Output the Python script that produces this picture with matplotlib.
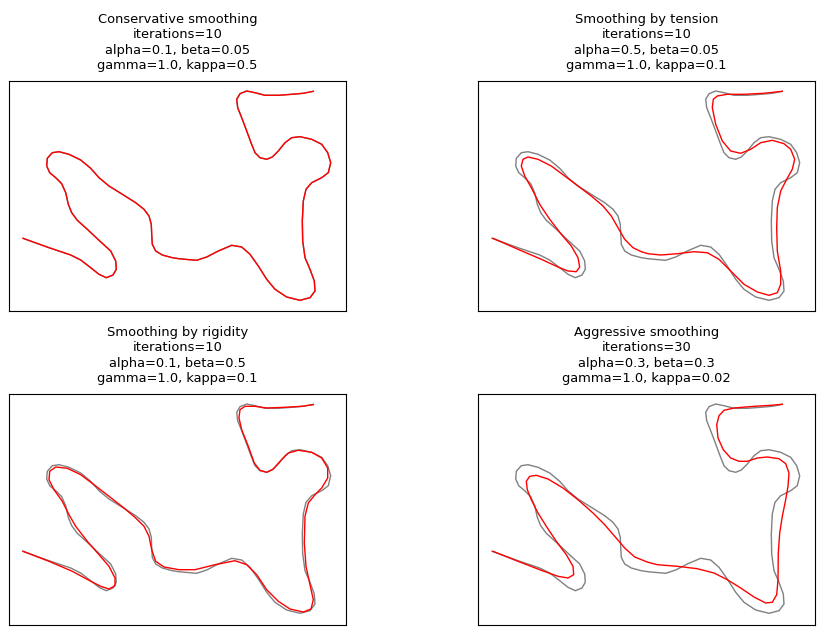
#!/usr/bin/env python3
"""Active contour smoothing: original curve vs smoothed result, four settings."""

import matplotlib
matplotlib.use("Agg")
import matplotlib.pyplot as plt

# original contour (grey), in panel pixel units
orig_x = [14, 40, 61.7, 71.7, 81.7, 90, 97.3, 104, 107.3, 106.7, 101.7, 90, 78.3, 68.3,
          62.7, 59.3, 56.7, 52.7, 46.7, 40.7, 37.7, 38.3, 43.3, 50, 60, 71.7, 81.7, 90,
          100, 113.3, 126.7, 135, 140, 142.3, 142.7, 143.3, 146.7, 153.3, 163.3, 170,
          176, 187.7, 197.7, 209.3, 222.7, 232.7, 241, 249.3, 257.7, 266, 277.7, 291,
          301, 306, 305.3, 301, 296, 293.7, 293.3, 294.3, 297, 302.7, 312.7, 319.3,
          321.7, 318.7, 312.7, 302.7, 291, 282.7, 276, 269.3, 263.3, 257.7, 251, 246,
          242, 237.7, 232.7, 228.7, 227.7, 231, 237.7, 246, 256, 269.3, 282.7, 294.3,
          304.3]
orig_y = [157.3, 166.7, 174, 179, 186.7, 193.3, 196.7, 194, 188.3, 180, 170, 159.3,
          148.3, 139.3, 131.7, 123.3, 111.7, 102.7, 96.7, 91.7, 85, 77.3, 71.7, 70.7,
          73.3, 79, 87.3, 96.7, 105, 113.3, 121.7, 128.3, 135, 143.3, 153.3, 163.3, 170,
          174, 176.7, 177.7, 178.3, 179.3, 176, 170, 164.3, 166, 173.3, 185, 198.3,
          208.3, 216, 219.3, 216.7, 210, 200, 188.3, 176.7, 160, 140, 120, 108.3, 101.7,
          96.7, 91.7, 81.7, 71.7, 63.3, 58.3, 55.7, 56.7, 61.7, 70, 76, 78.3, 76.7, 71.7,
          61.7, 50, 36.7, 26.7, 18.3, 12.7, 10, 11.7, 14.3, 14.3, 13.3, 12.3, 10.3]

# conservative smoothing: practically on top of the original
cons_x = orig_x
cons_y = orig_y

tension_x = [15, 40, 63.3, 80, 90, 98.3, 101.7, 100, 93.3, 83.3, 71.7, 61.7, 53.3, 46.7,
             43.3, 45, 50, 60, 73.3, 86.7, 100, 113.3, 125, 133.3, 140, 146.7, 155, 163.3,
             170, 182.7, 199.3, 216, 229.3, 241, 252.7, 266, 279.3, 291, 299.3, 302.7,
             302.7, 299.3, 298.7, 299.3, 302.7, 308.7, 314.3, 316.7, 312.7, 306, 294.3,
             282.7, 272.7, 262.7, 252.7, 244.3, 237.7, 234.3, 235.3, 239.3, 249.3, 266,
             286, 304.3]
tension_y = [157.3, 168.3, 178.3, 186, 190, 190.7, 186, 176.7, 165, 153.3, 138.3, 123.3,
             106.7, 95, 85, 78.3, 76, 78.3, 85, 95, 105, 115, 125, 135, 146.7, 158.3,
             166.7, 170.7, 172.7, 174, 172.7, 170.7, 171.7, 178.3, 190, 203.3, 211, 214.3,
             211.7, 203.3, 190, 170, 146.7, 126.7, 110, 98.3, 88.3, 78.3, 68.3, 62.7,
             59.3, 61.7, 68.3, 72.3, 70, 60, 43.3, 26.7, 18.3, 15, 13.3, 13.3, 12.3, 10.3]

rigid_x = [14, 40, 63.3, 80, 91.7, 100, 106, 106, 100, 90, 78.3, 66.7, 60, 53.3, 45, 40,
           40.7, 46.7, 58.3, 71.7, 85, 100, 115, 126.7, 135, 140, 142.7, 146.7, 155, 170,
           186, 206, 226, 237.7, 247.7, 257.7, 269.3, 281, 294.3, 302, 304.3, 301, 297,
           295.3, 296, 299.3, 306, 312.7, 318.7, 318.7, 312.7, 302.7, 289.3, 279.3, 271,
           264.3, 257.7, 251, 245.3, 239.3, 232.7, 230, 231, 236, 246, 257.7, 276,
           292.7, 304.3]
rigid_y = [157.3, 167.3, 177.3, 186.3, 192.3, 195, 191.7, 184, 172.3, 160.7, 147.3,
           132.3, 120.7, 107.3, 95.7, 85.7, 77.3, 73, 74.3, 80.7, 90.7, 102.3, 114, 124,
           132.3, 142.3, 155.7, 167.3, 173, 175.7, 175.7, 170.7, 166.7, 170.7, 180.7,
           195.7, 207.3, 215, 218, 215, 205.7, 190.7, 172.3, 149, 122.3, 109, 100.7, 94,
           84, 74, 64, 58.3, 56.3, 59, 67.3, 75, 78.3, 76.3, 69, 52.3, 35.7, 24, 15.7,
           12.3, 12.3, 14, 13.3, 12.3, 10.7]

aggr_x = [15, 40, 63.3, 80, 90, 95.7, 95, 88.3, 78.3, 68.3, 60, 53.3, 49.3, 48.3, 51.7,
          58.3, 70, 85, 100, 115, 126.7, 136.7, 146.7, 156.7, 170, 179.3, 199.3, 219.3,
          236, 249.3, 262.7, 276, 287.7, 294.3, 298.7, 300, 300.3, 301.7, 304.3, 307.7,
          310, 311, 307.7, 301, 289.3, 279.3, 269.3, 261, 252.7, 245.3, 240, 238.7, 241,
          246, 256, 276, 292.7, 304.3]
aggr_y = [157.3, 167.3, 176.3, 182.3, 184, 180.7, 172.3, 160.7, 147.3, 132.3, 119, 105.7,
          95.7, 87.3, 82.3, 81.3, 85, 94, 105.7, 119, 130.7, 142.3, 154, 163, 168.3,
          170.7, 172.3, 174.7, 179, 185.7, 194, 203, 209, 208.3, 200.7, 185.7, 159,
          139, 122.3, 105.7, 92.3, 79, 69.7, 64.7, 63, 64, 67.3, 67.3, 64, 55.7, 44,
          30.7, 21.7, 16.3, 14, 12.3, 11.3, 10.3]

titles = [
    "Conservative smoothing\niterations=10\nalpha=0.1, beta=0.05\ngamma=1.0, kappa=0.5",
    "Smoothing by tension\niterations=10\nalpha=0.5, beta=0.05\ngamma=1.0, kappa=0.1",
    "Smoothing by rigidity\niterations=10\nalpha=0.1, beta=0.5\ngamma=1.0, kappa=0.1",
    "Aggressive smoothing\niterations=30\nalpha=0.3, beta=0.3\ngamma=1.0, kappa=0.02",
]
smoothed = [(cons_x, cons_y), (tension_x, tension_y), (rigid_x, rigid_y), (aggr_x, aggr_y)]


def main() -> None:
    fig = plt.figure(figsize=(8.23, 6.33), dpi=100)
    W, H = 823, 633
    boxes = [(9, 81, 337, 230), (478, 81, 337, 230), (9, 394, 337, 231), (478, 394, 337, 231)]

    for (left, top, w, h), title, (sx, sy) in zip(boxes, titles, smoothed):
        ax = fig.add_axes([left / W, 1 - (top + h) / H, w / W, h / H])
        ax.plot(orig_x, orig_y, color="gray", lw=1)
        ax.plot(sx, sy, color="red", lw=1)
        ax.set_xlim(0, 337)
        ax.set_ylim(h, 0)
        ax.set_xticks([])
        ax.set_yticks([])
        ax.set_title(title, fontsize=9.4, pad=8.5, linespacing=1.25)

    fig.savefig("out.png", dpi=100)
    plt.close(fig)


if __name__ == "__main__":
    main()
